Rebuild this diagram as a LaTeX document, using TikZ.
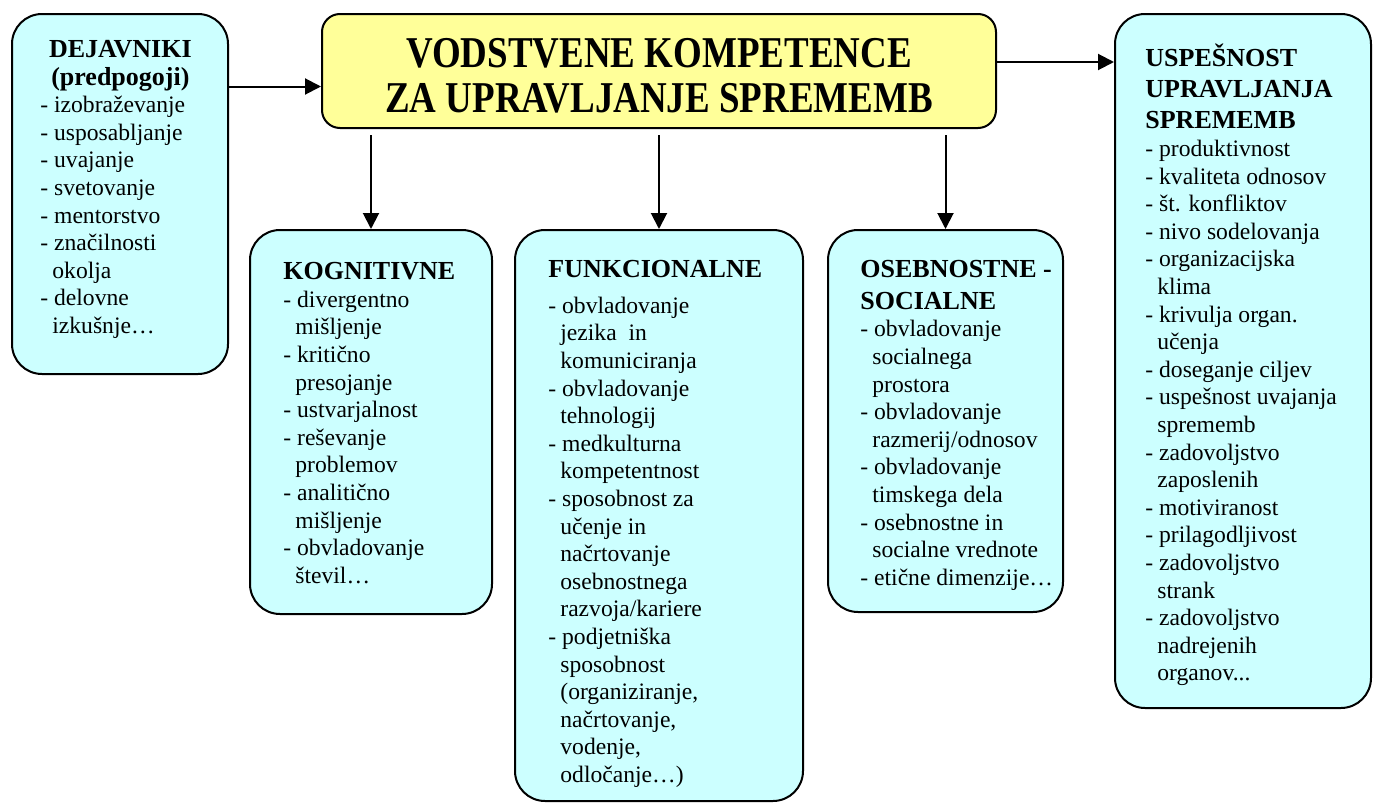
\documentclass[tikz,border=0pt]{standalone}
\usepackage{fontspec}
\setmainfont{Liberation Serif}
\newfontfamily\titlefont[FakeStretch=0.84]{Liberation Serif}
\usepackage{xcolor}
\usepackage{tikz}
\usetikzlibrary{arrows.meta, positioning, fit, calc}
\definecolor{boxcyan}{HTML}{CCFFFF}
\definecolor{boxyellow}{HTML}{FFFF99}
\newcommand{\hdr}[1]{{\fontsize{13}{13.8}\selectfont\bfseries #1}}
\newcommand{\cont}{\hspace*{6pt}}
\tikzset{
    baseblock/.style={rectangle, draw=black, line width=1pt},
    factorblock/.style={baseblock, fill=boxcyan, rounded corners=15pt, inner sep=0pt},
    titleblock/.style={baseblock, fill=boxyellow, rounded corners=9pt, minimum width=337pt, minimum height=57pt},
    titletext/.style={inner sep=0pt, align=center, font=\titlefont\fontsize{22}{22.5}\selectfont\bfseries},
    itemtext/.style={anchor=north west, inner sep=0pt, align=left, font=\fontsize{11.8}{13.8}\selectfont},
    arrow/.style={line width=1pt, -{Triangle[length=8pt, width=8pt]}}
}

\begin{document}
\begin{tikzpicture}[x=0.5pt, y=-0.5pt]
    \useasboundingbox (0,0) rectangle (1373,803);

    % central block
    \node (title) [titleblock] at (659,71) {};
    \node (titletxt) [titletext] at ($(title.center)+(0,5)$) {VODSTVENE KOMPETENCE\\ZA UPRAVLJANJE SPREMEMB};

    % boxes
    \node (dej) [factorblock, fit={(12,14) (228,374)}] {};
    \node (kog) [factorblock, fit={(250,230) (492,614)}] {};
    \node (fun) [factorblock, fit={(515,230) (803,801)}] {};
    \node (ose) [factorblock, fit={(828,230) (1063,612)}] {};
    \node (usp) [factorblock, fit={(1115,14) (1371,708)}] {};

    % box texts
    \node (dejtxt) [itemtext] at (40,40) {\makebox[80pt][c]{\hdr{DEJAVNIKI}}\\
        \makebox[80pt][c]{\hdr{(predpogoji)}}\\
        - izobraževanje\\ - usposabljanje\\ - uvajanje\\ - svetovanje\\ - mentorstvo\\
        - značilnosti\\ \cont okolja\\ - delovne\\ \cont izkušnje…};
    \node (kogtxt) [itemtext] at (283,262) {\hdr{KOGNITIVNE}\\
        - divergentno\\ \cont mišljenje\\ - kritično\\ \cont presojanje\\ - ustvarjalnost\\
        - reševanje\\ \cont problemov\\ - analitično\\ \cont mišljenje\\ - obvladovanje\\ \cont števil…};
    \node (funtxt) [itemtext] at (548,260) {\hdr{FUNKCIONALNE}\\[4pt]
        - obvladovanje\\ \cont jezika\ \ in\\ \cont komuniciranja\\ - obvladovanje\\ \cont tehnologij\\
        - medkulturna\\ \cont kompetentnost\\ - sposobnost za\\ \cont učenje in\\ \cont načrtovanje\\
        \cont osebnostnega\\ \cont razvoja/kariere\\ - podjetniška\\ \cont sposobnost\\
        \cont (organiziranje,\\ \cont načrtovanje,\\ \cont vodenje,\\ \cont odločanje…)};
    \node (osetxt) [itemtext] at (860,260) {\hdr{OSEBNOSTNE -}\\[2pt] \hdr{SOCIALNE}\\
        - obvladovanje\\ \cont socialnega\\ \cont prostora\\ - obvladovanje\\ \cont razmerij/odnosov\\
        - obvladovanje\\ \cont timskega dela\\ - osebnostne in\\ \cont socialne vrednote\\ - etične dimenzije…};
    \node (usptxt) [itemtext] at (1145,44) {\hdr{USPEŠNOST}\\[1.7pt] \hdr{UPRAVLJANJA}\\[1.7pt] \hdr{SPREMEMB}\\
        - produktivnost\\ - kvaliteta odnosov\\ - št. konfliktov\\ - nivo sodelovanja\\
        - organizacijska\\ \cont klima\\ - krivulja organ.\\ \cont učenja\\ - doseganje ciljev\\
        - uspešnost uvajanja\\ \cont sprememb\\ - zadovoljstvo\\ \cont zaposlenih\\ - motiviranost\\
        - prilagodljivost\\ - zadovoljstvo\\ \cont strank\\ - zadovoljstvo\\ \cont nadrejenih\\ \cont organov...};

    % arrows
    \coordinate (inarr) at ($(title.west)+(0,15.5)$);
    \coordinate (outarr) at ($(title.east)+(0,-9)$);
    \coordinate (tb) at ([yshift=-3pt]title.south);
    \draw [arrow] (dej.east |- inarr) -- (inarr);
    \draw [arrow] (outarr) -- (usp.west |- outarr);
    \draw [arrow] (tb -| kog.north) -- (kog.north);
    \draw [arrow] (tb -| fun.north) -- (fun.north);
    \draw [arrow] (tb -| ose.north) -- (ose.north);
\end{tikzpicture}
\end{document}
